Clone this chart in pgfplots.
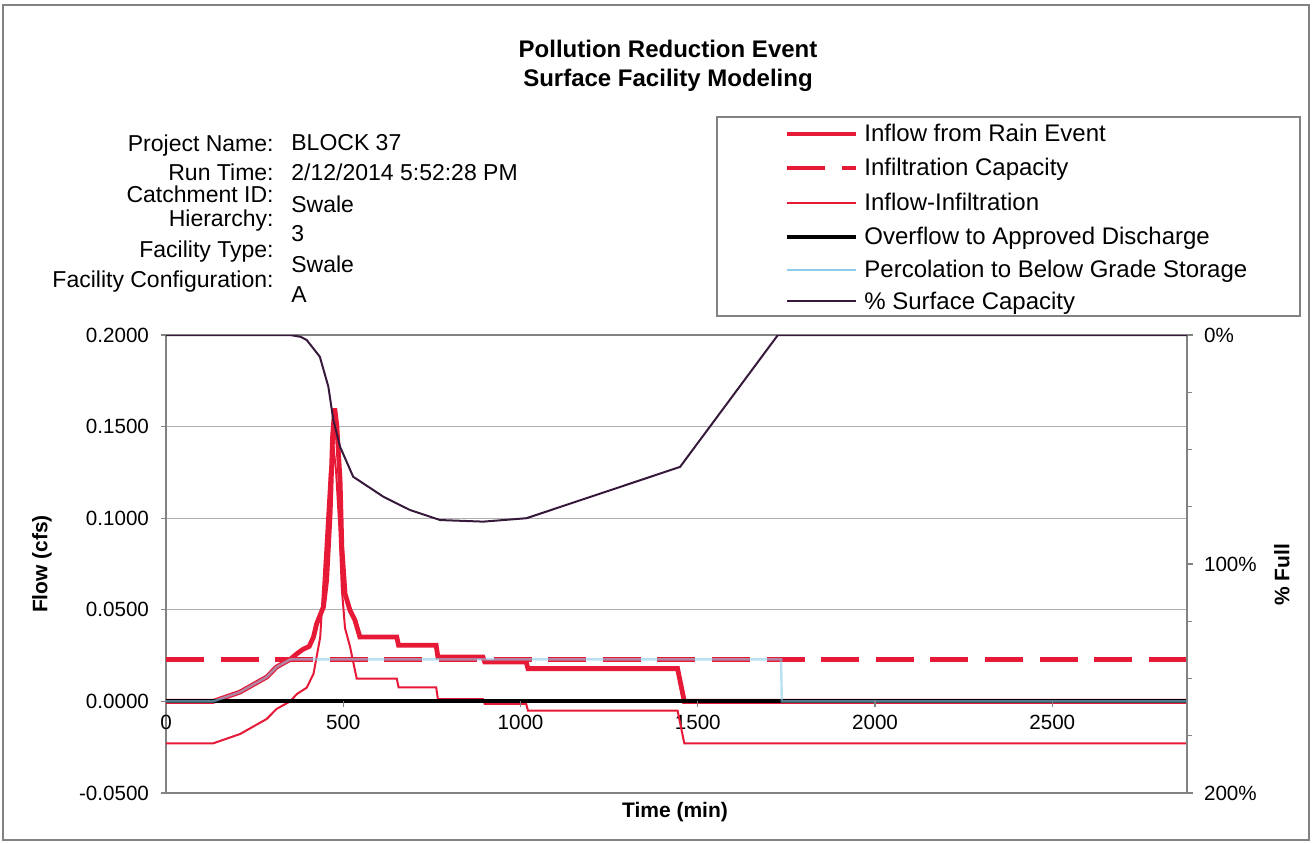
\documentclass[border=0pt]{standalone}
\usepackage{fontspec}
\setmainfont{Liberation Sans}
\usepackage{pgfplots}
\pgfplotsset{compat=1.18}
\definecolor{rainred}{RGB}{230,25,55}
\definecolor{perc}{RGB}{140,205,235}
\definecolor{plum}{RGB}{55,25,60}
\definecolor{gridgray}{RGB}{175,175,175}
\definecolor{framegray}{RGB}{130,130,130}

\begin{document}
\begin{tikzpicture}
% left axis: flows
\begin{axis}[
  scale only axis, width=510.5pt, height=229pt,
  xmin=0, xmax=2880, ymin=-0.05, ymax=0.2,
  axis line style={draw=framegray, line width=0.6pt},
  xtick={0,500,1000,1500,2000,2500},
  major x tick style={draw=none},
  xticklabel style={yshift=45pt},
  ytick={-0.05,0,0.05,0.1,0.15,0.2},
  ytick pos=left, tick align=outside, major tick length=2.5pt,
  major y tick style={draw=framegray, line width=0.6pt},
  ymajorgrids, grid style={draw=gridgray, line width=0.5pt},
  scaled y ticks=false,
  yticklabel style={xshift=-2.5pt, /pgf/number format/.cd, fixed, fixed zerofill, precision=4},
  /pgf/number format/assume math mode=true,
  /pgf/number format/1000 sep={},
  ticklabel style={font=\fontsize{10.3}{12}\selectfont},
  every axis y label/.style={at={(axis description cs:-0.1215,0.5)}, rotate=90, anchor=center},
  every axis x label/.style={at={(axis description cs:0.4985,-0.0415)}, anchor=center},
  ylabel={\bfseries\fontsize{10.5}{12}\selectfont Flow (cfs)},
  xlabel={\bfseries\fontsize{10.5}{12}\selectfont Time (min)},
  no markers,
]
\coordinate (tl) at (rel axis cs:0,1);
% Inflow from Rain Event
\addplot[rainred, line width=2.4pt] coordinates {
  (0,0) (133,0) (209,0.0051) (284,0.0133) (312,0.0188) (350,0.0229)
  (369,0.0260) (387,0.0285) (404,0.0300) (416,0.0351) (425,0.0424)
  (444,0.0515) (453,0.0660) (463,0.1025) (470,0.1450) (476,0.1600)
  (482,0.1500) (491,0.1207) (496,0.0843) (505,0.0588) (519,0.0497)
  (533,0.0443) (547,0.0351) (651,0.0351) (656,0.0306) (762,0.0306)
  (767,0.0242) (894,0.0242) (899,0.0215) (1016,0.0215) (1021,0.0179)
  (1443,0.0179) (1462,0) (2880,0)
};
% Infiltration Capacity
\addplot[rainred, line width=2.4pt, dash pattern=on 19pt off 8.3pt] coordinates {
  (0,0.0229) (2880,0.0229)
};
% Inflow-Infiltration
\addplot[rainred, line width=1pt] coordinates {
  (0,-0.0229) (133,-0.0229) (209,-0.0178) (284,-0.0096) (312,-0.0041)
  (350,0.0000) (369,0.0040) (397,0.0075) (416,0.0150) (435,0.0350)
  (449,0.0810) (462,0.1250) (472,0.1400) (480,0.1250) (489,0.0950)
  (496,0.0614) (505,0.0400) (519,0.0300) (538,0.0124) (651,0.0124)
  (656,0.0077) (762,0.0077) (767,0.0013) (894,0.0013) (899,-0.0014)
  (1016,-0.0014) (1021,-0.0050) (1443,-0.0050) (1462,-0.0229) (2880,-0.0229)
};
% Overflow to Approved Discharge
\addplot[black, line width=2pt] coordinates {
  (0,0) (2880,0)
};
% Percolation to Below Grade Storage
\addplot[perc, line width=1.2pt, draw opacity=0.6] coordinates {
  (0,0) (133,0) (209,0.0051) (284,0.0133) (312,0.0188) (350,0.0229)
  (1735,0.0229) (1737,0) (2880,0)
};
\pgfplotsinvokeforeach{500,1000,1500,2000,2500}{
  \draw[framegray, line width=0.6pt] (axis cs:#1,0) -- ++(0pt,-3pt);
}
\end{axis}
% right axis: percent surface capacity
\begin{axis}[
  scale only axis, width=510.5pt, height=229pt,
  xmin=0, xmax=2880, ymin=0, ymax=200, y dir=reverse,
  axis x line=none, axis y line*=right,
  axis line style={draw=framegray, line width=0.6pt},
  ytick={0,100,200}, yticklabels={0\%,100\%,200\%},
  minor ytick={25,50,75,125,150,175},
  tick align=outside, major tick length=3pt, minor tick length=2.5pt,
  every tick/.style={draw=framegray, line width=0.6pt},
  ticklabel style={font=\fontsize{10.3}{12}\selectfont},
  yticklabel style={xshift=2pt},
  every axis y label/.style={at={(axis description cs:1.093,0.476)}, rotate=90, anchor=center},
  ylabel={\bfseries\fontsize{10.5}{12}\selectfont \% Full},
  no markers,
]
\addplot[plum, line width=1pt] coordinates {
  (0,0) (350,0) (380,0.8) (397,2.2) (434,9.5) (458,22.6) (472,37.1)
  (491,48.8) (528,61.9) (613,70.6) (688,76.4) (773,80.8) (895,81.5)
  (1017,80.0) (1450,57.6) (1726,0) (2880,0)
};
\end{axis}
% texts, legend and frame in image pixel units
\begin{scope}[shift={(tl)}, xshift=-83pt, yshift=167.5pt, x=0.5pt, y=-0.5pt,
  every node/.style={inner sep=0pt}]
\draw[framegray, line width=0.8pt] (3,5) rectangle (1309,840);
\node[anchor=base, font=\bfseries\fontsize{12}{14}\selectfont] at (668,58) {Pollution Reduction Event};
\node[anchor=base, font=\bfseries\fontsize{12}{14}\selectfont] at (668,87) {Surface Facility Modeling};
\begin{scope}[every node/.append style={font=\fontsize{11.5}{13}\selectfont}]
\node[anchor=base east] at (274,152) {Project Name:};
\node[anchor=base east] at (274,181) {Run Time:};
\node[anchor=base east] at (274,203) {Catchment ID:};
\node[anchor=base east] at (274,227) {Hierarchy:};
\node[anchor=base east] at (274,258) {Facility Type:};
\node[anchor=base east] at (274,288) {Facility Configuration:};
\node[anchor=base west] at (291,151) {BLOCK 37};
\node[anchor=base west] at (291,181) {2/12/2014 5:52:28 PM};
\node[anchor=base west] at (291,213) {Swale};
\node[anchor=base west] at (291,242) {3};
\node[anchor=base west] at (291,273) {Swale};
\node[anchor=base west] at (291,303) {A};
\end{scope}
% legend
\draw[framegray, line width=0.8pt] (717,117) rectangle (1300,316);
\draw[rainred, line width=2.4pt] (787,134) -- (856,134);
\draw[rainred, line width=2.4pt, dash pattern=on 19pt off 8.3pt] (787,168) -- (856,168);
\draw[rainred, line width=1pt] (787,203) -- (856,203);
\draw[black, line width=2pt] (787,237) -- (856,237);
\draw[perc, line width=0.8pt] (787,270) -- (856,270);
\draw[plum, line width=1pt] (787,301) -- (856,301);
\begin{scope}[every node/.append style={font=\fontsize{12}{14}\selectfont, anchor=base west}]
\node at (864,142) {Inflow from Rain Event};
\node at (864,176) {Infiltration Capacity};
\node at (864,211) {Inflow-Infiltration};
\node at (864,245) {Overflow to Approved Discharge};
\node at (864,278) {Percolation to Below Grade Storage};
\node at (864,309) {\% Surface Capacity};
\end{scope}
\pgfresetboundingbox
\path[use as bounding box] (0,0) rectangle (1312,842);
\end{scope}
\end{tikzpicture}
\end{document}
